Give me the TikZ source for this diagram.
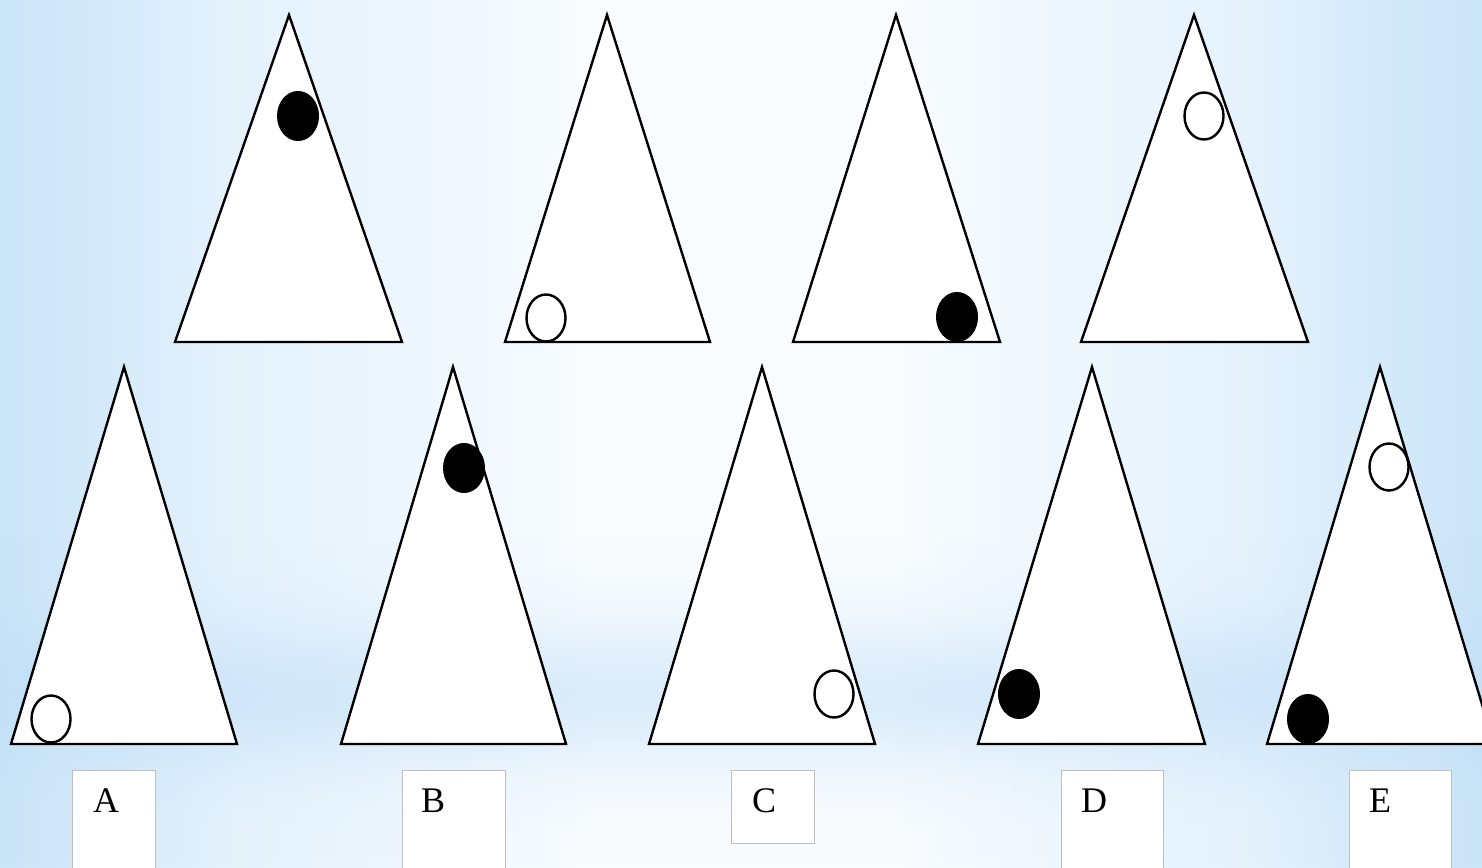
\documentclass[tikz,border=0pt]{standalone}
\usepackage{fontspec}
\setmainfont{Liberation Serif}
\definecolor{bandblue}{RGB}{190,221,246}
\definecolor{boxgray}{RGB}{190,190,195}
\pgfdeclarehorizontalshading{bgshade}{100bp}{
  rgb(0bp)=(0.79,0.895,0.972);
  rgb(25bp)=(0.79,0.895,0.972);
  rgb(33bp)=(0.895,0.948,0.99);
  rgb(45bp)=(0.975,0.988,1);
  rgb(55bp)=(0.975,0.988,1);
  rgb(67bp)=(0.895,0.948,0.99);
  rgb(75bp)=(0.79,0.895,0.972);
  rgb(100bp)=(0.79,0.895,0.972)}
\tikzset{
  tri/.style={draw=black, fill=white, line width=2.4pt, line join=miter},
  dotfull/.style={fill=black, draw=black, line width=1pt},
  dotopen/.style={fill=white, draw=black, line width=2.4pt},
  lbl/.style={draw=boxgray, line width=0.8pt, fill=white, inner sep=0pt, anchor=north west},
  letter/.style={font=\fontsize{36}{38}\selectfont, anchor=center}
}
\begin{document}
\begin{tikzpicture}[x=1pt,y=-1pt]
\useasboundingbox (0,0) rectangle (1482,867);
\begin{scope}
\clip (0,0) rectangle (1482,867);
% background
\shade[shading=bgshade] (0,0) rectangle (1482,867);
\foreach \i in {0,...,79} {
  \pgfmathsetmacro{\ya}{540+4*\i}
  \pgfmathsetmacro{\op}{0.5*exp(-((\ya+2-695)/75)^2)}
  \fill[bandblue, opacity=\op] (0,\ya) rectangle (1482,\ya+4);
}
% top row
\draw[tri] (289,15) -- (402,342) -- (175,342) -- cycle;
\draw[dotfull] (298,116) ellipse [x radius=20.5, y radius=24.5];
\draw[tri] (607,15) -- (710,342) -- (505,342) -- cycle;
\draw[dotopen] (546,318) ellipse [x radius=19.5, y radius=23.5];
\draw[tri] (896,15) -- (1000,342) -- (793,342) -- cycle;
\draw[dotfull] (957,317) ellipse [x radius=20.5, y radius=24.5];
\draw[tri] (1194,15) -- (1308,342) -- (1081,342) -- cycle;
\draw[dotopen] (1204,116) ellipse [x radius=19.5, y radius=23.5];
% bottom row
\draw[tri] (124,367) -- (237,744) -- (11,744) -- cycle;
\draw[dotopen] (51,719) ellipse [x radius=19.5, y radius=23.5];
\draw[tri] (453,367) -- (566,744) -- (341,744) -- cycle;
\draw[dotfull] (464,468) ellipse [x radius=20.5, y radius=24.5];
\draw[tri] (762,367) -- (875,744) -- (649,744) -- cycle;
\draw[dotopen] (834,694) ellipse [x radius=19.5, y radius=23.5];
\draw[tri] (1092,367) -- (1205,744) -- (978,744) -- cycle;
\draw[dotfull] (1019,694) ellipse [x radius=20.5, y radius=24.5];
\draw[tri] (1380,367) -- (1494,744) -- (1267,744) -- cycle;
\draw[dotopen] (1389,467) ellipse [x radius=19.5, y radius=23.5];
\draw[dotfull] (1308,719) ellipse [x radius=20.5, y radius=24.5];
% label boxes
\node[lbl, minimum width=83pt, minimum height=100pt] (boxA) at (72,770) {};
\node[lbl, minimum width=103pt, minimum height=100pt] (boxB) at (402,770) {};
\node[lbl, minimum width=83pt, minimum height=73pt] (boxC) at (731,770) {};
\node[lbl, minimum width=102pt, minimum height=100pt] (boxD) at (1061,770) {};
\node[lbl, minimum width=102pt, minimum height=100pt] (boxE) at (1349,770) {};
\node[letter] (lA) at (106,801) {A};
\node[letter] (lB) at (433,801) {B};
\node[letter] (lC) at (764,801) {C};
\node[letter] (lD) at (1094,801) {D};
\node[letter] (lE) at (1380,801) {E};
\end{scope}
\end{tikzpicture}
\end{document}
